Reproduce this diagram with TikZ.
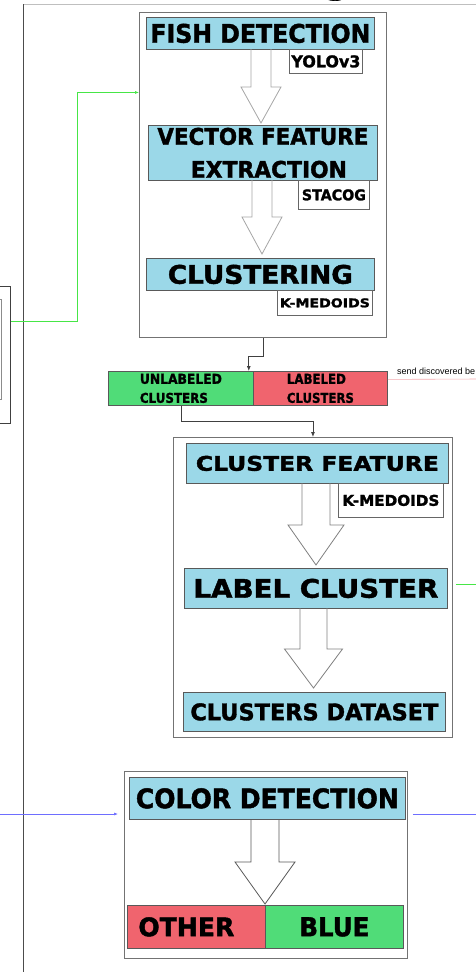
\documentclass[tikz,border=0pt]{standalone}
\usepackage{fontspec}
\setmainfont{DejaVu Sans}[BoldFeatures={FakeBold=1.6}]
\newfontfamily\notefont{Liberation Sans}
\usetikzlibrary{arrows.meta,positioning}

\definecolor{stageblue}{RGB}{155,216,232}
\definecolor{okgreen}{RGB}{80,220,120}
\definecolor{badred}{RGB}{240,100,110}
\definecolor{wiregreen}{RGB}{70,230,70}
\definecolor{wireblue}{RGB}{110,110,255}
\definecolor{wirered}{RGB}{245,170,175}

% bold caption squeezed to a given width and cap height
\newcommand{\lbl}[3]{\resizebox{#1pt}{#2pt}{\bfseries #3}}
% hollow block arrow: x, shaft top, head base, tip, half shaft, half head
\newcommand{\hollowarrow}[7][]{%
  \draw[blockarrow,#1] (#2-#6,#3) -- (#2-#6,#4) -- (#2-#7,#4) -- (#2,#5)
    -- (#2+#7,#4) -- (#2+#6,#4) -- (#2+#6,#3);}

\tikzset{
  dims/.style 2 args={minimum width=#1pt, minimum height=#2pt},
  stage/.style={draw=black!65, line width=0.8pt, fill=stageblue, inner sep=0pt, anchor=north west},
  tool/.style={draw=black!60, line width=0.8pt, fill=white, inner sep=0pt, anchor=north west},
  group/.style={draw=black!55, line width=0.9pt, inner sep=0pt, anchor=north west},
  blockarrow/.style={draw=black!45, line width=0.8pt},
  link/.style={draw=black!75, line width=0.8pt, -{Latex[length=5pt,width=4pt]}},
  greenlink/.style={draw=wiregreen, line width=0.6pt, -{Latex[length=4pt,width=3pt]}},
  bluelink/.style={draw=wireblue, line width=0.6pt, -{Latex[length=4pt,width=3pt]}},
}

\begin{document}
\begin{tikzpicture}[x=1pt, y=-1pt]
  \fill[white] (0,0) rectangle (475,972);
  \useasboundingbox (0,0) rectangle (475,972);

  % page frame and the cut-off heading
  \node[font=\bfseries\fontsize{40}{40}\selectfont, anchor=base, inner sep=0pt] (title) at (337,-8) {g};
  \draw[black!25, line width=0.9pt] (23,4) -- (480,4);
  \draw[black!70, line width=0.9pt] (23,4) -- (23,980);

  % box on the far left
  \node[draw=black!75, line width=0.8pt, inner sep=0pt, anchor=north east, dims={60}{137}] (ext) at (11,286) {};
  \node[draw=black!45, line width=0.8pt, inner sep=0pt, anchor=north east, dims={50}{100}] (extin) at (2,299) {};

  % detection stage
  \node[group, dims={247}{325}] (grp1) at (139,12) {};
  \node[stage, dims={228}{32}] (fish) at (146,17) {\lbl{220}{19}{FISH DETECTION}};
  \node[tool, dims={73}{24}] (yolo) at (289,49) {\lbl{69}{12}{YOLOv3}};
  \node[stage, dims={229}{55}, align=center, font=\fontsize{20}{33}\selectfont] (vec) at (148,125)
    {\lbl{211}{17}{VECTOR FEATURE}\\\hspace*{12pt}\lbl{156}{17}{EXTRACTION}};
  \node[tool, dims={71}{29}] (stacog) at (298,180) {\lbl{64}{11}{STACOG}};
  \node[stage, dims={228}{32}] (clus) at (146,258) {\lbl{185}{19}{CLUSTERING}};
  \node[tool, dims={95}{25}] (kmed) at (277,290) {\lbl{90}{9}{K-MEDOIDS}};

  \hollowarrow[draw=black!35]{261}{49}{87}{123}{10}{20}
  \hollowarrow[draw=black!35]{262}{180}{217}{254}{10}{20}

  % cluster split
  \node[stage, fill=okgreen, dims={145}{34}, text width=82pt, align=left, font=\fontsize{10}{19}\selectfont] (unl) at (108,371)
    {\lbl{82}{10}{UNLABELED}\\\lbl{68}{10}{CLUSTERS}};
  \node[stage, fill=badred, dims={134}{34}, text width=67pt, align=left, font=\fontsize{10}{19}\selectfont] (lab) at (253,371)
    {\lbl{59}{10}{LABELED}\\\lbl{67}{10}{CLUSTERS}};
  \node[anchor=base west, inner sep=0pt, font=\notefont\fontsize{9}{10}\selectfont] (note) at (397,374) {send discovered be};
  \coordinate (rout) at (480,379);
  \draw[wirered, line width=0.6pt] ([yshift=9pt]lab.east) -- (rout);

  % labelling stage
  \node[group, dims={279}{300}] (grp2) at (173,437) {};
  \node[stage, dims={262}{40}] (cfeat) at (186,443) {\lbl{243}{15}{CLUSTER FEATURE}};
  \node[tool, dims={105}{34}] (kmed2) at (338,483) {\lbl{97}{11}{K-MEDOIDS}};
  \node[stage, dims={263}{40}] (lblc) at (184,568) {\lbl{245}{19}{LABEL CLUSTER}};
  \node[stage, dims={262}{39}] (cdata) at (183,692) {\lbl{248}{17}{CLUSTERS DATASET}};

  \hollowarrow[draw=black!50]{316}{483}{525}{565}{14}{28}
  \hollowarrow[draw=black!50]{313.5}{608}{649}{688}{13.5}{29}

  \coordinate (gout) at (480,584);
  \draw[draw=wiregreen, line width=0.6pt] ([xshift=3pt]grp2.east |- gout) -- (gout);

  % colour stage
  \node[group, dims={283}{187}] (grp3) at (124,771) {};
  \node[stage, dims={276}{42}] (color) at (129,777) {\lbl{263}{20}{COLOR DETECTION}};
  \node[stage, fill=badred, dims={138}{43}] (other) at (127,905) {\hspace*{-20pt}\lbl{96}{19}{OTHER}};
  \node[stage, fill=okgreen, dims={138}{43}] (blue) at (265,905) {\lbl{70}{19}{BLUE}};

  \hollowarrow[draw=black!65]{265}{819}{862}{904}{14}{30}

  % connectors
  \draw[link] (grp1.south) -- ++(0,18) -| ([xshift=-5pt]unl.north east);
  \draw[link] (unl.south) -- ++(0,16) -| (grp2.north);

  \coordinate (gsrc) at (11,321);
  \draw[greenlink] (gsrc) -- ++(66,0) |- ([yshift=82.5pt]grp1.west);

  \coordinate (bin) at (-5,814);
  \coordinate (bout) at (480,814);
  \draw[bluelink] (bin) -- ([xshift=-6pt]grp3.west |- bin);
  \draw[draw=wireblue, line width=0.6pt] ([xshift=5pt]grp3.east |- bin) -- (bout);
\end{tikzpicture}
\end{document}
